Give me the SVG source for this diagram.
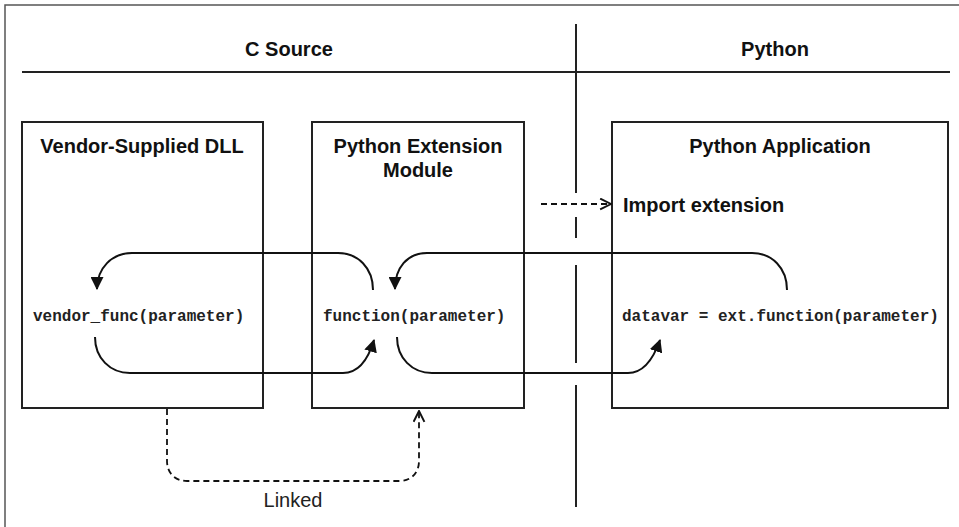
<svg xmlns="http://www.w3.org/2000/svg" width="959" height="527" viewBox="0 0 959 527">
<defs>
<style>
.frame{stroke:#555;stroke-width:1.5;fill:none}
.rule{stroke:#222;stroke-width:2;fill:none}
.box{stroke:#222;stroke-width:2;fill:none}
.head{font-family:"Liberation Sans",Arial,sans-serif;font-weight:bold;font-size:20px;fill:#111;text-anchor:middle}
.title{font-family:"Liberation Sans",Arial,sans-serif;font-weight:bold;font-size:20px;fill:#111;text-anchor:middle}
.code{font-family:"Liberation Mono","Courier New",monospace;font-weight:bold;font-size:16px;fill:#222}
.flow{stroke:#111;stroke-width:2;fill:none;marker-end:url(#solid)}
.dash{stroke:#111;stroke-width:1.8;fill:none;stroke-dasharray:6 4;marker-end:url(#open)}
.lbl{font-family:"Liberation Sans",Arial,sans-serif;font-size:20px;fill:#222;text-anchor:middle}
</style>
<marker id="solid" viewBox="0 0 12 12" refX="11" refY="6" markerWidth="13" markerHeight="13" markerUnits="userSpaceOnUse" orient="auto">
<path d="M0,0 L12,6 L0,12 Z" fill="#111"/>
</marker>
<marker id="open" viewBox="0 0 12 12" refX="11" refY="6" markerWidth="13" markerHeight="13" markerUnits="userSpaceOnUse" orient="auto">
<path d="M1,1 L11,6 L1,11" fill="none" stroke="#111" stroke-width="1.8"/>
</marker>
</defs>
<rect width="959" height="527" fill="#fff"/>
<g id="frame">
<path class="frame" d="M5 527 V5 H959"/>
<path class="rule" d="M22 72 H950"/>
<path class="rule" d="M576 24 V193 M576 217 V238 M576 265 V363 M576 385 V507"/>
<text class="head" x="289" y="56">C Source</text>
<text class="head" x="775" y="56">Python</text>
</g>
<g id="vendor-dll">
<rect class="box" x="22" y="122" width="241" height="286"/>
<text class="title" x="142" y="153">Vendor-Supplied DLL</text>
<text class="code" x="33" y="321">vendor_func(parameter)</text>
</g>
<g id="extension-module">
<rect class="box" x="312" y="122" width="212" height="286"/>
<text class="title" x="418" y="153">Python Extension</text>
<text class="title" x="418" y="177">Module</text>
<text class="code" x="323" y="321">function(parameter)</text>
</g>
<g id="python-app">
<rect class="box" x="612" y="122" width="336" height="286"/>
<text class="title" x="780" y="153">Python Application</text>
<text class="code" x="622" y="321">datavar = ext.function(parameter)</text>
</g>
<g id="import-label">
<text x="623" y="212" style="font-family:'Liberation Sans',Arial,sans-serif;font-weight:bold;font-size:20px;fill:#111">Import extension</text>
</g>
<g id="linked-label">
<text class="lbl" x="293" y="507">Linked</text>
</g>
<g id="connectors">
<path class="flow" d="M373 290 C373 268 358 253 338 253 L132 253 C112 253 97 268 97 289"/>
<path class="flow" d="M95 337 C95 358 110 373 130 373 L343 373 C358 373 368 360 374 340"/>
<path class="flow" d="M787 290 C787 268 772 253 752 253 L427 253 C407 253 395 268 395 289"/>
<path class="flow" d="M397 337 C397 358 412 373 432 373 L628 373 C643 373 653 360 660 340"/>
<path class="dash" d="M541 204 H611"/>
<path class="dash" d="M167 409 V461 C167 473 175 481 187 481 L399 481 C411 481 419 473 419 461 V411"/>
</g>
</svg>
